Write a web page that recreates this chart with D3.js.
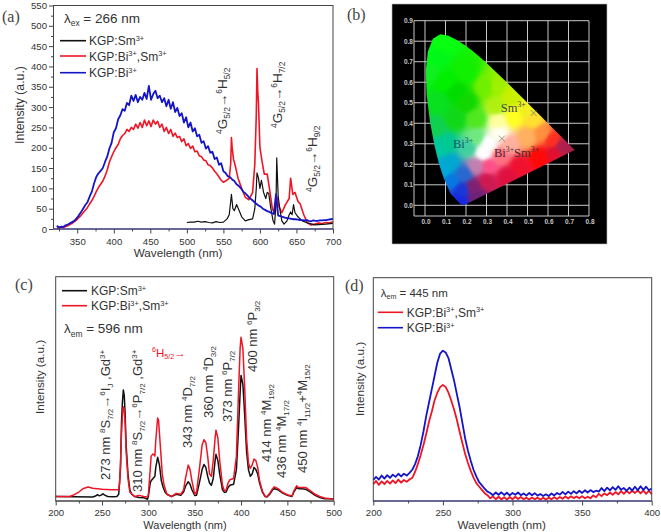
<!DOCTYPE html>
<html>
<head>
<meta charset="utf-8">
<script src="https://cdnjs.cloudflare.com/ajax/libs/d3/7.8.5/d3.min.js"></script>
<style>
html, body { margin: 0; padding: 0; background: #fff; }
svg { display: block; }
text { font-family: "Liberation Sans", Arial, sans-serif; fill: #333; }
</style>
</head>
<body>
<svg id="fig" width="661" height="532"></svg>
<script>
// panel (a) emission, lambda ex = 266 nm
var aTicks = [350, 400, 450, 500, 550, 600, 650, 700];
var aYTicks = [0, 50, 100, 150, 200, 250, 300, 350, 400, 450, 500, 550];

var aBlueX = d3.range(322, 701, 3);
var aBlueY = [8, 4, 6, 5, 9, 11, 14, 17, 20, 26, 33, 41, 50, 59, 66, 80, 92, 112, 128, 137, 143, 150, 165, 178, 198, 212,
	238, 248, 270, 280, 295, 291, 310, 305, 328, 315, 330, 312, 325, 318, 335, 320, 352, 318, 332, 340, 322, 328, 312, 322,
	302, 318, 296, 312, 288, 298, 278, 285, 262, 275, 250, 262, 240, 248, 228, 232, 212, 216, 198, 204, 188, 190, 172, 176,
	158, 162, 142, 138, 130, 128, 122, 118, 110, 106, 100, 92, 88, 82, 76, 72, 67, 62, 58, 55, 50, 47, 44, 42, 39, 37, 86,
	33, 32, 30, 28, 27, 26, 25, 24, 24, 23, 22, 22, 21, 22, 20, 19, 21, 20, 20, 21, 21, 22, 22, 23, 24, 25];

var aRedX = d3.range(322, 556, 3).concat([558, 560, 561, 562, 564, 565, 567, 570, 575, 580, 585, 590, 593, 595, 596, 597, 598, 600,
	603, 606, 610, 613, 617, 620, 623, 626, 630, 635, 640, 642, 645, 648, 652, 655, 660, 665, 670, 675, 680, 685, 690, 695, 700]);
var aRedY = [3, 2, 5, 4, 6, 8, 11, 14, 18, 22, 28, 33, 40, 46, 53, 62, 70, 80, 92, 102, 110, 118, 130, 145, 165, 178,
	190, 200, 208, 222, 230, 235, 245, 240, 250, 245, 258, 248, 262, 250, 268, 254, 266, 252, 268, 258, 265, 250, 258, 240,
	250, 235, 245, 228, 236, 225, 228, 215, 222, 205, 210, 198, 204, 190, 192, 180, 178, 170, 168, 158, 156, 150, 142, 136,
	128, 120, 115, 118,
	125, 160, 225, 200, 170, 165, 150, 125, 100, 78, 72, 90, 160, 280, 395, 340, 310, 200,
	165, 135, 135, 100, 50, 38, 80, 55, 40, 60, 75, 125, 85, 90, 68, 62, 35, 15, 10, 12, 15, 13, 16, 15, 18];

var aBlackX = [500, 505, 510, 515, 520, 525, 530, 535, 540, 545, 550, 555, 558, 561, 563, 565, 568, 571, 575, 580, 585, 590, 593, 595, 596, 598,
	600, 602, 605, 608, 610, 612, 615, 618, 620, 622, 623, 625, 628, 630, 633, 637, 640, 642, 644, 646, 648, 652, 658, 665, 675, 690, 700];
var aBlackY = [16, 17, 17, 19, 17, 18, 16, 15, 18, 16, 17, 25, 35, 85, 50, 45, 60, 48, 30, 20, 23, 25, 50, 100, 138, 125,
	100, 120, 90, 75, 90, 88, 50, 20, 12, 60, 175, 80, 40, 20, 12, 20, 35, 42, 35, 60, 40, 30, 20, 15, 10, 12, 14];

// panel (b) chromaticity diagram
var cieLocus = [[0.174, 0.005], [0.1241, 0.0578], [0.0913, 0.1327], [0.0687, 0.2007], [0.0454, 0.295], [0.0235, 0.4127],
	[0.0082, 0.5384], [0.0039, 0.6548], [0.0139, 0.7502], [0.0389, 0.812], [0.0743, 0.8338], [0.1142, 0.8262], [0.1547, 0.8059],
	[0.1929, 0.7816], [0.2296, 0.7543], [0.2658, 0.7243], [0.3016, 0.6923], [0.3373, 0.6589], [0.3731, 0.6245], [0.4087, 0.5896],
	[0.4441, 0.5547], [0.4788, 0.5202], [0.5125, 0.4866], [0.5448, 0.4544], [0.5752, 0.4242], [0.6029, 0.3965], [0.627, 0.3725],
	[0.6482, 0.3514], [0.6658, 0.334], [0.6801, 0.3197], [0.6915, 0.3083], [0.714, 0.2859], [0.73, 0.27]];
var cieColors = [[0.08, 0.8, "#08ff10"], [0.02, 0.65, "#10f020"], [0.05, 0.72, "#00f818"], [0.1, 0.6, "#00f000"], [0.2, 0.65, "#10f000"],
	[0.15, 0.55, "#00dc00"], [0.2, 0.5, "#10d800"], [0.07, 0.5, "#08e020"], [0.15, 0.42, "#10d818"], [0.25, 0.42, "#50e820"], [0.05, 0.38, "#10d050"],
	[0.105, 0.3, "#00c890"], [0.07, 0.28, "#00c8a0"], [0.12, 0.205, "#00a8d0"], [0.09, 0.17, "#00a8d8"], [0.13, 0.12, "#0878e0"], [0.18, 0.075, "#1838d8"],
	[0.17, 0.02, "#1828e0"], [0.19, 0.15, "#2868d0"], [0.3, 0.58, "#70f000"], [0.35, 0.58, "#a0f000"], [0.42, 0.53, "#c8f000"], [0.35, 0.48, "#b0f010"],
	[0.5, 0.47, "#f0f020"], [0.43, 0.43, "#ffff20"], [0.53, 0.42, "#ffe030"], [0.575, 0.35, "#ff9040"], [0.5, 0.33, "#ffb060"], [0.62, 0.32, "#ff3020"],
	[0.67, 0.285, "#b02050"], [0.71, 0.275, "#a82048"], [0.63, 0.25, "#e01030"], [0.56, 0.235, "#ff0808"], [0.46, 0.19, "#f01030"], [0.4, 0.14, "#e01040"],
	[0.3, 0.12, "#d01850"], [0.235, 0.09, "#802070"], [0.25, 0.04, "#702078"], [0.285, 0.255, "#ffffff"], [0.31, 0.3, "#ffffff"], [0.365, 0.35, "#fffff0"],
	[0.36, 0.41, "#ffffa0"], [0.41, 0.3, "#ffb0a0"], [0.37, 0.24, "#ff7080"], [0.25, 0.33, "#70e880"], [0.21, 0.28, "#40d0a0"], [0.25, 0.19, "#c080b0"], [0.31, 0.19, "#ff5088"]];
var bXTicks = [0, 0.1, 0.2, 0.3, 0.4, 0.5, 0.6, 0.7, 0.8];
var bYTicks = [0, 0.1, 0.2, 0.3, 0.4, 0.5, 0.6, 0.7, 0.8, 0.9];
var cieCross = [[0.53, 0.45], [0.375, 0.325]];

// panel (c) excitation, lambda em = 596 nm
var cTicks = [200, 250, 300, 350, 400, 450, 500];
var cBlackX = [200, 240, 243, 245, 247, 249, 251, 253, 256, 262, 266, 268, 270, 271, 272, 273, 274, 275, 276, 278, 280, 282, 285, 290, 295, 299,
	300, 302, 303, 305, 307, 308, 310, 312, 314, 316, 318, 320, 325, 330, 335, 338, 340, 343, 345, 347, 350, 352, 355, 358, 360, 362, 364, 366, 368,
	370, 372, 373, 375, 377, 380, 382, 384, 386, 388, 392, 395, 397, 399, 400, 402, 404, 406, 408, 410, 412, 414, 416, 418, 420, 423, 426, 428, 431,
	434, 436, 440, 445, 450, 455, 457, 460, 462, 465, 470, 475, 480, 485, 490, 500];
var cBlackY = [2, 1.8, 2.2, 2.8, 2.3, 2.6, 3.2, 2.6, 2, 1.9, 2, 3, 15, 35, 44, 49.5, 47, 38, 25, 12, 5, 3, 2, 1.6, 1.5, 0.8,
	2, 8, 9, 10, 11, 15, 19.5, 16, 9, 6, 4, 3, 2, 3, 2.6, 4, 6.5, 8.6, 7.5, 5, 2.5, 2.6, 8, 14, 16.3, 15, 11, 8, 7,
	10, 18, 20.8, 18, 12, 5, 3.9, 4, 6, 7, 7.5, 14, 30, 48, 56, 52, 38, 22, 14, 11, 12, 15, 14, 12, 8, 4, 2, 1.8, 3,
	5, 5.5, 5, 3.5, 2.5, 2, 4, 6, 5.5, 5.5, 5.2, 4, 2.5, 1.5, 1, 1];
var cRedX = [200, 215, 220, 225, 230, 235, 240, 250, 260, 268, 269, 270, 271, 272, 273, 274, 275, 276, 278, 280, 285, 290, 295, 299,
	300, 302, 303, 305, 307, 308, 310, 311, 313, 315, 317, 320, 325, 330, 335, 338, 340, 343, 345, 347, 350, 352, 355, 358, 360, 362, 364, 366, 368,
	370, 372, 373, 375, 377, 380, 382, 384, 386, 388, 392, 395, 397, 399, 400, 402, 404, 406, 408, 410, 412, 414, 416, 418, 420, 423, 426, 428, 431,
	434, 436, 440, 445, 450, 455, 457, 460, 462, 465, 470, 475, 480, 485, 490, 500];
var cRedY = [2, 2, 2.8, 4, 5.6, 6.2, 5.7, 5.2, 5, 5, 8, 18, 30, 38, 42, 41, 34, 22, 10, 4, 2, 2.5, 2, 1.8,
	3, 14, 20, 21, 20, 27, 37, 36, 24, 12, 7, 3, 2, 3.4, 3, 5, 10, 16, 14, 9, 3, 4, 14, 25, 27.3, 26, 20, 12, 11,
	18, 28, 31.6, 28, 18, 7, 4.5, 5, 8, 9.5, 10, 20, 45, 68, 73, 68, 50, 28, 17, 14.5, 16, 18.7, 18, 15, 9, 4.5, 2, 2, 3.5,
	5.5, 6.3, 5.5, 3.8, 2.8, 2.2, 4.5, 6.8, 6, 6, 6, 4.5, 3, 2, 1.3, 0.8];

// panel (d) excitation, lambda em = 445 nm
var dTicks = [200, 250, 300, 350, 400];
var dX = d3.range(200, 401, 2);
var dBlueY = [9.5, 10.8, 9.6, 11.4, 10, 11.6, 10.4, 11.8, 10.8, 12.2, 11, 12.2, 11.4, 12.6, 14, 16.5, 20, 25, 31, 38, 44, 50, 56, 62, 66, 67.3,
	66.5, 64, 59, 54, 48, 42, 35, 28, 22.5, 18, 14, 11, 8.5, 7, 5.5, 4.2, 3.6, 2.6, 3.8, 2.8, 3.9, 2.7, 3.7, 2.5, 3.6, 2.8, 3.8, 2.6, 3.4, 2.4,
	3.6, 2.6, 3.5, 2.4, 3.1, 2.2, 3, 2.2, 3.4, 2.5, 3.6, 2.9, 4.1, 3, 4.2, 3.2, 4.4, 3.4, 4.6, 3.6, 4.8, 3.8, 4.9, 4, 4.6, 4.2, 5.8, 4.4, 6, 4.8,
	6.2, 5, 6.6, 5, 5.8, 4.6, 6, 4.7, 6.4, 4.8, 6.6, 5, 6.4, 4.8, 5.6];
var dRedY = [7.5, 9, 7.2, 8.8, 7.6, 9, 7.8, 9.2, 8, 9.6, 8.2, 9.4, 8.6, 9.6, 10.4, 13, 16.5, 20.5, 25, 30, 35.5, 40, 45, 48.5, 51, 52,
	51, 48.5, 45, 41, 36.5, 31, 26, 21, 17, 13.5, 10.5, 8, 6.5, 5, 3.5, 2.6, 1.2, 2, 0.8, 1.9, 0.7, 1.7, 0.6, 1.8, 0.8, 1.9, 0.9, 1.8, 0.8, 1.5,
	0.7, 1.6, 0.8, 1.5, 0.7, 1.4, 0.7, 1.5, 0.8, 1.7, 0.9, 1.8, 1, 2, 1.1, 2.1, 1.3, 2, 1.2, 2.2, 1.2, 1.9, 1.2, 2.5, 1.7, 3.2, 2.2, 3.4, 2.6, 3.8,
	2.8, 4, 3, 4.4, 3.2, 4.5, 3.4, 4.6, 3.6, 4.8, 3.4, 4.7, 3.2, 4.6, 3];

var BLACK = "#111", RED = "#f01525", BLUE = "#1414c8";

var svg = d3.select("#fig");

// text with ^{sup} and _{sub} runs
function rich(x, y, str, size, opts) {
	opts = opts || {};
	var t = svg.append("text").attr("font-size", size)
		.attr("transform", "translate(" + x + "," + y + ")" + (opts.rotate ? " rotate(" + opts.rotate + ")" : ""));
	if (opts.fill) t.style("fill", opts.fill);
	if (opts.family) t.style("font-family", opts.family);
	var re = /([\^_])\{([^}]*)\}|([^\^_]+)/g, m, shift = 0;
	while ((m = re.exec(str))) {
		var ts = t.append("tspan");
		var want = m[1] == "^" ? -size * 0.38 : m[1] == "_" ? size * 0.24 : 0;
		ts.attr("dy", want - shift);
		shift = want;
		if (m[1]) ts.attr("font-size", size * 0.62);
		ts.text(m[1] ? m[2] : m[3]);
	}
	return t;
}

function lineOf(g, xs, ys, x, y, color, w) {
	var line = d3.line().x(d => x(d[0])).y(d => y(d[1]));
	g.append("path").attr("d", line(d3.zip(xs, ys)))
		.attr("fill", "none").attr("stroke", color).attr("stroke-width", w).attr("stroke-linejoin", "round");
}

function frame(x, y, ticks, minorTicks, pad, bottomColor, yTicks, yMinor) {
	var r = x.range(), b = y.range();
	var g = svg.append("g").attr("class", "frame");
	g.append("rect").attr("x", r[0]).attr("y", b[1]).attr("width", r[1] - r[0]).attr("height", b[0] - b[1])
		.attr("fill", "none").attr("stroke", "#444").attr("stroke-width", 1);
	g.append("line").attr("x1", r[0]).attr("x2", r[1]).attr("y1", b[0]).attr("y2", b[0]).attr("stroke", bottomColor).attr("stroke-width", 1);
	var bot = g.append("g").attr("transform", "translate(0," + b[0] + ")")
		.call(d3.axisBottom(x).tickValues(ticks).tickSize(4.5).tickPadding(pad).tickFormat(d3.format("d")));
	var botMinor = g.append("g").attr("transform", "translate(0," + b[0] + ")")
		.call(d3.axisBottom(x).tickValues(minorTicks).tickSize(2.5).tickFormat(""));
	var axes = [bot, botMinor];
	if (yTicks) {
		axes.push(g.append("g").attr("transform", "translate(" + r[0] + ",0)")
			.call(d3.axisLeft(y).tickValues(yTicks).tickSize(4.5).tickPadding(2).tickFormat(d3.format("d"))));
		axes.push(g.append("g").attr("transform", "translate(" + r[0] + ",0)")
			.call(d3.axisLeft(y).tickValues(yMinor).tickSize(2.5).tickFormat("")));
	}
	axes.forEach(function(a) {
		a.select(".domain").remove();
		a.selectAll("line").attr("stroke", "#444");
		a.selectAll("text").attr("font-size", 9.6).style("font-family", '"Liberation Sans", Arial, sans-serif').style("fill", "#333");
	});
}

function legendRow(x0, x1, y, color, label, tx, size) {
	svg.append("line").attr("x1", x0).attr("x2", x1).attr("y1", y).attr("y2", y).attr("stroke", color).attr("stroke-width", 1.6);
	rich(tx, y + 4.5, label, size);
}

function centered(x, y, label, size, rotate) {
	svg.append("text").attr("font-size", size).attr("text-anchor", "middle")
		.attr("transform", "translate(" + x + "," + y + ")" + (rotate ? " rotate(" + rotate + ")" : ""))
		.text(label);
}

function panelTag(x, y, label) {
	svg.append("text").attr("x", x).attr("y", y).attr("font-size", 16).style("font-family", '"Liberation Serif", serif').style("fill", "#444").text(label);
}

// ---- (a)
var ax = d3.scaleLinear().domain([317.5, 700]).range([53.5, 333]);
var ay = d3.scaleLinear().domain([0, 550]).range([229, 5.5]);
var ag = svg.append("g");
lineOf(ag, aRedX, aRedY, ax, ay, RED, 1.6);
lineOf(ag, aBlackX, aBlackY, ax, ay, BLACK, 1.2);
lineOf(ag, aBlueX, aBlueY, ax, ay, BLUE, 1.8);
frame(ax, ay, aTicks, d3.range(325, 700, 50), 5, "#30308a", aYTicks, d3.range(25, 550, 50));
panelTag(2, 22, "(a)");
rich(64, 22.5, "λ_{ex} = 266 nm", 13.5);
legendRow(60, 86, 40.7, BLACK, "KGP:Sm^{3+}", 89, 12);
legendRow(60, 86, 56, RED, "KGP:Bi^{3+},Sm^{3+}", 89, 12);
legendRow(60, 86, 72.7, BLUE, "KGP:Bi^{3+}", 89, 12);
centered(24, 105, "Intensity (a.u.)", 12.3, -90);
centered(178, 257, "Wavelength (nm)", 11.7);
rich(227, 134, "^{4}G_{5/2}→^{6}H_{5/2}", 13.5, {rotate: -90});
rich(282, 128, "^{4}G_{5/2}→^{6}H_{7/2}", 13.5, {rotate: -90});
rich(317, 192, "^{4}G_{5/2}→^{6}H_{9/2}", 13.5, {rotate: -90});

// ---- (b)
var bx = d3.scaleLinear().domain([0, 0.8]).range([425, 589]);
var by = d3.scaleLinear().domain([0, 0.9]).range([205.3, 20.7]);
svg.append("rect").attr("x", 392).attr("y", 4).attr("width", 215).attr("height", 240).attr("fill", "#000").attr("stroke", "#bbb").attr("stroke-width", 0.6);
var bg = svg.append("g").attr("stroke", "#c8c8c8").attr("stroke-width", 1);
bXTicks.forEach(d => bg.append("line").attr("x1", bx(d)).attr("x2", bx(d)).attr("y1", by(0.9)).attr("y2", 216));
bYTicks.forEach(d => bg.append("line").attr("y1", by(d)).attr("y2", by(d)).attr("x1", 414).attr("x2", 589));
bg.append("line").attr("x1", 414).attr("x2", 414).attr("y1", by(0.9)).attr("y2", 216);
bg.append("line").attr("x1", 414).attr("x2", 589).attr("y1", 216).attr("y2", 216);

function cieColor(px, py) {
	// inverse-distance blend of the colours
	var sw = 0, r = 0, gr = 0, b = 0;
	cieColors.forEach(function(c) {
		var ex = px - c[0], ey = py - c[1];
		var w = 1 / Math.pow(ex * ex + ey * ey + 0.0003, 2.4);
		var col = d3.rgb(c[2]);
		sw += w; r += w * col.r; gr += w * col.g; b += w * col.b;
	});
	return [r / sw, gr / sw, b / sw];
}
var closedLocus = cieLocus.concat([[0.19, 0.0]]);
svg.append("clipPath").attr("id", "locus").append("path")
	.attr("d", d3.line().x(d => bx(d[0])).y(d => by(d[1])).curve(d3.curveLinearClosed)(closedLocus));

// colour field painted pixel by pixel, then placed in the svg through the same scales
var fx0 = Math.floor(bx(0)), fy0 = Math.floor(by(0.85));
var fw = Math.ceil(bx(0.74)) - fx0, fh = Math.ceil(by(0)) - fy0 + 1;
var field = document.createElement("canvas");
field.width = fw;
field.height = fh;
var fctx = field.getContext("2d");
var fimg = fctx.createImageData(fw, fh);
d3.range(fh).forEach(function(j) {
	d3.range(fw).forEach(function(i) {
		var col = cieColor(bx.invert(fx0 + i + 0.5), by.invert(fy0 + j + 0.5));
		var k = (j * fw + i) * 4;
		fimg.data[k] = col[0];
		fimg.data[k + 1] = col[1];
		fimg.data[k + 2] = col[2];
		fimg.data[k + 3] = 255;
	});
});
fctx.putImageData(fimg, 0, 0);
svg.append("g").attr("clip-path", "url(#locus)").append("image")
	.attr("x", fx0).attr("y", fy0).attr("width", fw).attr("height", fh)
	.attr("href", field.toDataURL("image/png"));

bXTicks.forEach(d => svg.append("text").attr("x", bx(d) + 1).attr("y", 223.5).attr("text-anchor", "middle").attr("font-size", 6.5)
	.attr("font-weight", "bold").style("fill", "#c8c8c8").text(d3.format(".1f")(d)));
bYTicks.forEach(d => svg.append("text").attr("x", 413).attr("y", by(d) + 2.3).attr("text-anchor", "end").attr("font-size", 6.5)
	.attr("font-weight", "bold").style("fill", "#c8c8c8").text(d3.format(".1f")(d)));
cieCross.forEach(function(d) {
	var s = 3;
	var px = bx(d[0]), py = by(d[1]);
	svg.append("path").attr("d", "M" + (px - s) + "," + (py - s) + "L" + (px + s) + "," + (py + s) + "M" + (px - s) + "," + (py + s) + "L" + (px + s) + "," + (py - s))
		.attr("stroke", "#777").attr("stroke-width", 0.8).attr("fill", "none");
});
var serif = '"Liberation Serif", serif';
rich(500.7, 112, "Sm^{3+}", 12.5, {family: serif, fill: "#444"});
rich(453, 148, "Bi^{3+}", 12.5, {family: serif, fill: "#145a6a"});
rich(494, 157, "Bi^{3+}Sm^{3+}", 12.5, {family: serif, fill: "#4a2a30"});
panelTag(347, 20, "(b)");

// ---- (c)
var cx = d3.scaleLinear().domain([200, 500]).range([55.7, 333.7]);
var cy = d3.scaleLinear().domain([0, 100]).range([501, 276.7]);
var cg = svg.append("g");
lineOf(cg, cBlackX, cBlackY, cx, cy, BLACK, 1.5);
lineOf(cg, cRedX, cRedY, cx, cy, RED, 1.5);
frame(cx, cy, cTicks, d3.range(225, 500, 50), 3.5, "#444");
panelTag(15, 290, "(c)");
legendRow(62, 87, 290.7, BLACK, "KGP:Sm^{3+}", 91, 12);
legendRow(62, 87, 305.7, RED, "KGP:Bi^{3+},Sm^{3+}", 91, 12);
rich(64, 333.3, "λ_{em} = 596 nm", 13.5);
rich(152, 356.7, "^{6}H_{5/2}→", 11.5, {fill: RED});
centered(44, 377, "Intensity (a.u.)", 11.7, -90);
centered(185, 528.5, "Wavelength (nm)", 11);
var rot = {rotate: -90};
rich(110, 480, "273 nm ^{8}S_{7/2}→^{6}I_{J} ,Gd^{3+}", 13, rot);
rich(142, 492, "310 nm ^{8}S_{7/2}→^{6}P_{7/2} ,Gd^{3+}", 13, rot);
rich(192, 448, "343 nm ^{4}D_{7/2}", 13, rot);
rich(212.7, 418, "360 nm ^{4}D_{3/2}", 13, rot);
rich(232, 422, "373 nm ^{6}P_{7/2}", 13, rot);
rich(256.7, 372, "400 nm ^{6}P_{3/2}", 13, rot);
rich(270.7, 462, "414 nm ^{4}M_{19/2}", 13, rot);
rich(286, 478, "436 nm ^{4}M_{17/2}", 13, rot);
rich(306.7, 473, "450 nm ^{4}I_{11/2}+^{4}M_{15/2}", 13, rot);

// ---- (d)
var dx = d3.scaleLinear().domain([200, 400]).range([373.3, 651.7]);
var dy = d3.scaleLinear().domain([0, 100]).range([501, 277.7]);
var dg = svg.append("g");
lineOf(dg, dX, dRedY, dx, dy, RED, 1.8);
lineOf(dg, dX, dBlueY, dx, dy, BLUE, 1.8);
frame(dx, dy, dTicks, d3.range(225, 400, 50), 3.5, "#30308a");
panelTag(345, 291, "(d)");
rich(380.7, 296.7, "λ_{em} = 445 nm", 11.5);
legendRow(377.7, 403, 312.3, RED, "KGP:Bi^{3+},Sm^{3+}", 406.7, 12);
legendRow(377.7, 403, 327.7, BLUE, "KGP:Bi^{3+}", 406.7, 12);
centered(364, 379, "Intensity (a.u.)", 11.7, -90);
centered(501.7, 528.5, "Wavelength (nm)", 11.7);
</script>
</body>
</html>
